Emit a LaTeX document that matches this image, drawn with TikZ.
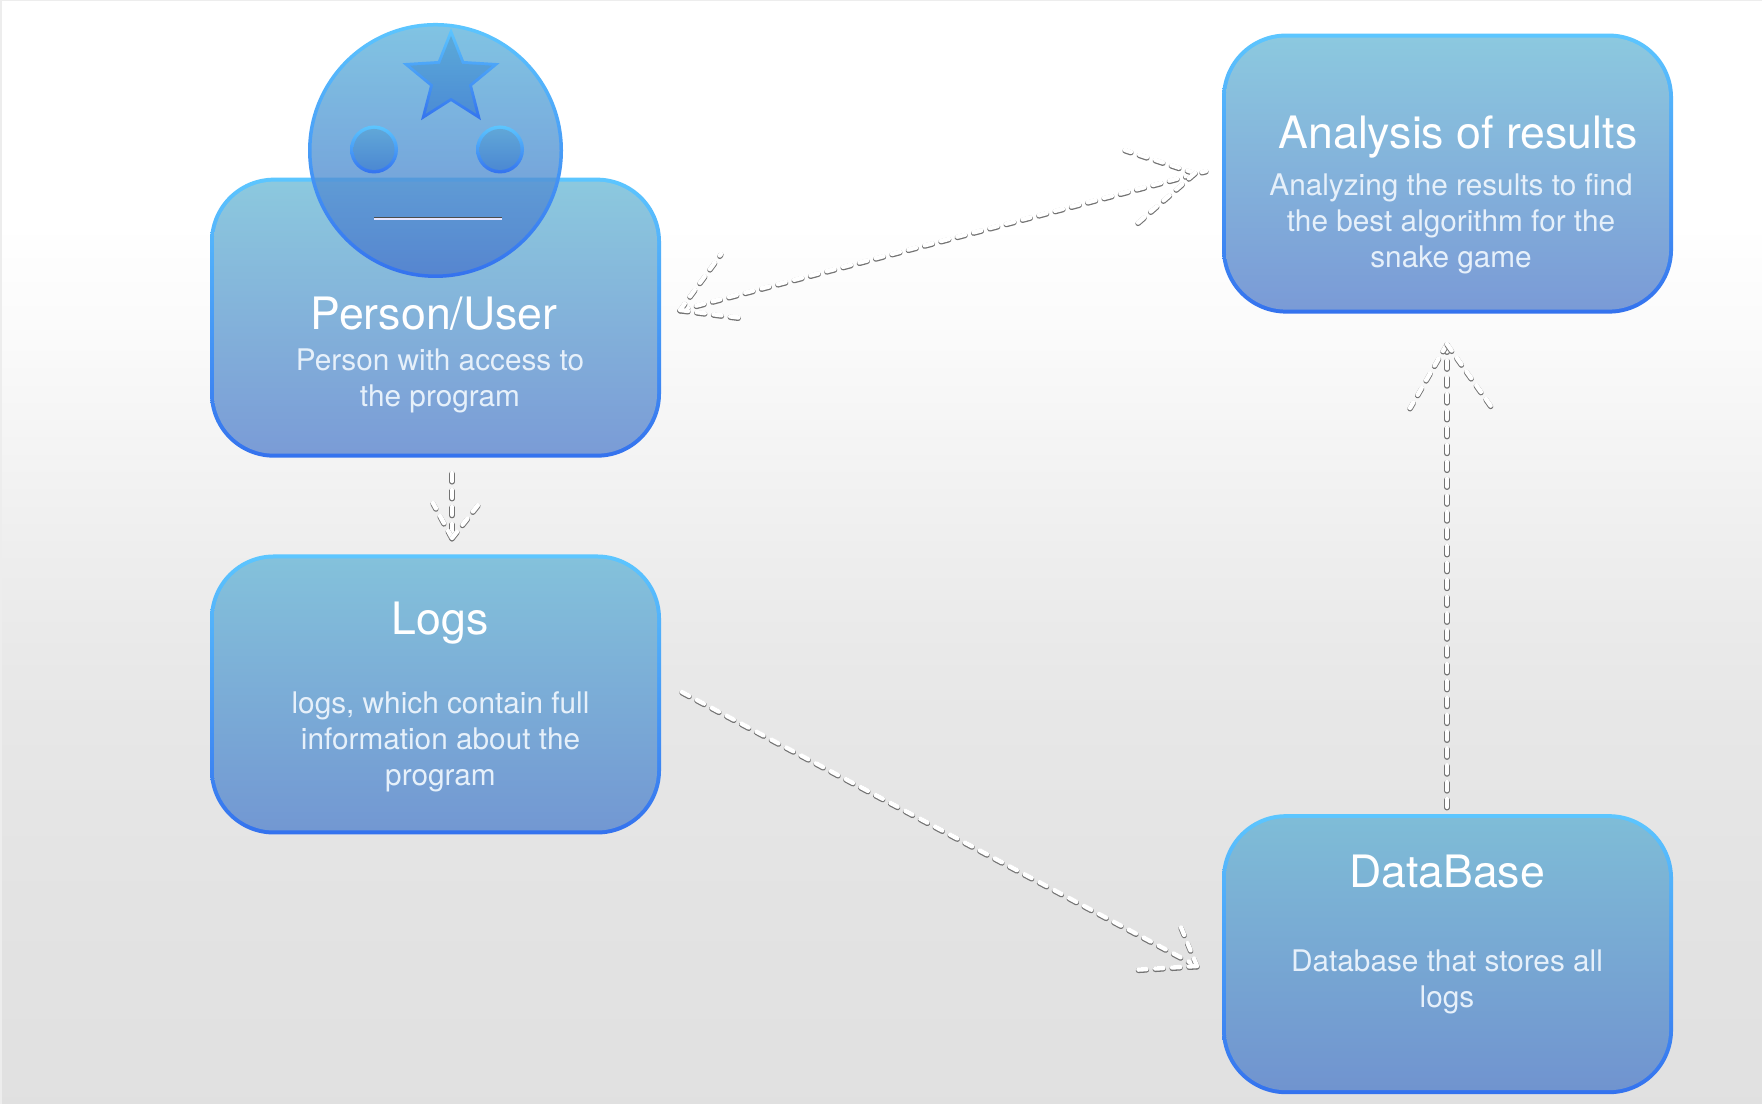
\documentclass[tikz,border=0pt]{standalone}
\usepackage{fontspec}
\setmainfont{TeX Gyre Heros}
\usetikzlibrary{shapes.geometric}

\definecolor{rimtop}{HTML}{5CC6FF}
\definecolor{rimbot}{HTML}{3472EE}
\definecolor{bodytext}{HTML}{E6F0FA}
\definecolor{eyetop}{HTML}{62A9D8}
\definecolor{eyebot}{HTML}{4A86D2}
\definecolor{startop}{HTML}{5BA9D8}
\definecolor{starbot}{HTML}{4C8CD5}
\definecolor{facetop}{HTML}{62B5DC}
\definecolor{facebot}{HTML}{4B79CD}
\definecolor{usertop}{HTML}{8CC9DE}
\definecolor{userbot}{HTML}{7A9BD6}
\definecolor{logstop}{HTML}{84C2DB}
\definecolor{logsbot}{HTML}{7297D2}
\definecolor{restop}{HTML}{8CC9DF}
\definecolor{resbot}{HTML}{7A9AD6}
\definecolor{dbtop}{HTML}{7FBDD7}
\definecolor{dbbot}{HTML}{7093CF}
\pgfdeclareverticalshading{backdrop}{100bp}{
	color(0bp)=(white!88!black);
	color(25bp)=(white!88!black);
	color(34bp)=(white!89!black);
	color(44.5bp)=(white!91!black);
	color(49.5bp)=(white!93!black);
	color(54.5bp)=(white!95.5!black);
	color(59.5bp)=(white!98!black);
	color(65bp)=(white);
	color(100bp)=(white)}

\tikzset{
	panel/.style 2 args={rectangle, rounded corners=.64cm, minimum width=4.51cm, minimum height=2.80cm, inner sep=0pt,
		top color=rimtop, bottom color=rimbot,
		path picture={\shade[top color=#1, bottom color=#2, rounded corners=.60cm]
			([shift={(.04,.04)}]path picture bounding box.south west) rectangle
			([shift={(-.04,-.04)}]path picture bounding box.north east);}},
	eyeball/.style={circle, minimum size=.48cm, inner sep=0pt, top color=rimtop, bottom color=rimbot,
		path picture={\shade[top color=eyetop, bottom color=eyebot]
			(path picture bounding box.center) circle (.205cm);}},
	title/.style={text=white, font=\fontsize{12.7}{15}\selectfont, anchor=base},
	detail/.style={text=bodytext, font=\fontsize{8.47}{10.24}\selectfont, align=center},
	flowshadow/.style={draw=black!55, line width=1.5pt, line cap=round, dash pattern=on 2.3pt off 2.5pt, transform canvas={yshift=-.25pt}},
	flowline/.style={draw=white, line width=1.25pt, line cap=round, dash pattern=on 2.3pt off 2.5pt, preaction={flowshadow}}
}

\begin{document}
\begin{tikzpicture}

	\useasboundingbox (0,0) rectangle (17.62,11.04);
	\fill[white!93!black] (0,0) rectangle (17.62,11.04);
	\shade[shading=backdrop] (.02,0) rectangle (17.62,11.02);

	\node[panel={usertop}{userbot}] (user) at (4.355,7.863) {};
	\node[panel={logstop}{logsbot}] (logs) at (4.355,4.095) {};
	\node[panel={restop}{resbot}] (res) at (14.475,9.304) {};
	\node[panel={dbtop}{dbbot}] (db) at (14.475,1.498) {};

	\node[circle, minimum size=2.52cm, inner sep=0pt, opacity=.8, top color=facetop, bottom color=facebot] (face) at (4.355,9.535) {};
	\shade[even odd rule, top color=rimtop, bottom color=rimbot] (face) circle (1.275) (face) circle (1.24);

	\node[eyeball] (e1) at (3.74,9.545) {};
	\node[eyeball] (e2) at (5.00,9.545) {};
	\node[star, star points=5, star point ratio=2.3, minimum size=1.02cm, inner sep=0pt, top color=rimtop, bottom color=rimbot] (s1) at (4.51,10.25) {};
	\node[star, star points=5, star point ratio=2.3, minimum size=.86cm, inner sep=0pt, top color=startop, bottom color=starbot] (s2) at (4.51,10.25) {};

	\coordinate (m1) at (3.74,8.85);
	\coordinate (m2) at (5.02,8.85);
	\draw[white!90!blue, line width=.45pt, preaction={draw=black!70, line width=.5pt, transform canvas={yshift=.2pt}}] (m1) -- (m2);

	\node[title] (t1) at (4.34,7.74) {Person/User};
	\node[detail] (t2) at (4.40,7.235) {Person with access to\\the program};
	\node[title] (t3) at (4.40,4.69) {Logs};
	\node[detail] (t4) at (4.405,3.62) {logs, which contain full\\information about the\\program};
	\node[title] (t5) at (14.58,9.55) {Analysis of results};
	\node[detail] (t6) at (14.51,8.80) {Analyzing the results to find\\the best algorithm for the\\snake game};
	\node[title] (t7) at (14.47,2.16) {DataBase};
	\node[detail] (t8) at (14.47,1.225) {Database that stores all\\logs};

	\coordinate (u1) at (6.80,7.94);
	\coordinate (u2) at (7.21,8.50);
	\coordinate (u3) at (7.42,7.86);
	\coordinate (r1) at (12.06,9.33);
	\coordinate (r2) at (11.95,9.31);
	\coordinate (r3) at (11.25,9.54);
	\coordinate (r4) at (11.33,8.77);
	\coordinate (u4) at (4.52,6.31);
	\coordinate (l1) at (4.52,5.66);
	\coordinate (l2) at (4.33,6.01);
	\coordinate (l3) at (4.78,5.99);
	\coordinate (l4) at (6.82,4.12);
	\coordinate (d1) at (11.97,1.38);
	\coordinate (d2) at (11.78,1.84);
	\coordinate (d3) at (11.32,1.34);
	\coordinate (d4) at (14.47,2.97);
	\coordinate (r5) at (14.47,7.60);
	\coordinate (r6) at (14.10,6.96);
	\coordinate (r7) at (14.93,6.95);

	\draw (u1) edge[flowline] (r1)
	(u1) edge[flowline] (u2)
	(u1) edge[flowline] (u3)
	(r2) edge[flowline] (r3)
	(r2) edge[flowline] (r4)
	(u4) edge[flowline] (l1)
	(l1) edge[flowline] (l2)
	(l1) edge[flowline] (l3)
	(l4) edge[flowline] (d1)
	(d1) edge[flowline] (d2)
	(d1) edge[flowline] (d3)
	(d4) edge[flowline] (r5)
	(r5) edge[flowline] (r6)
	(r5) edge[flowline] (r7);

\end{tikzpicture}
\end{document}
